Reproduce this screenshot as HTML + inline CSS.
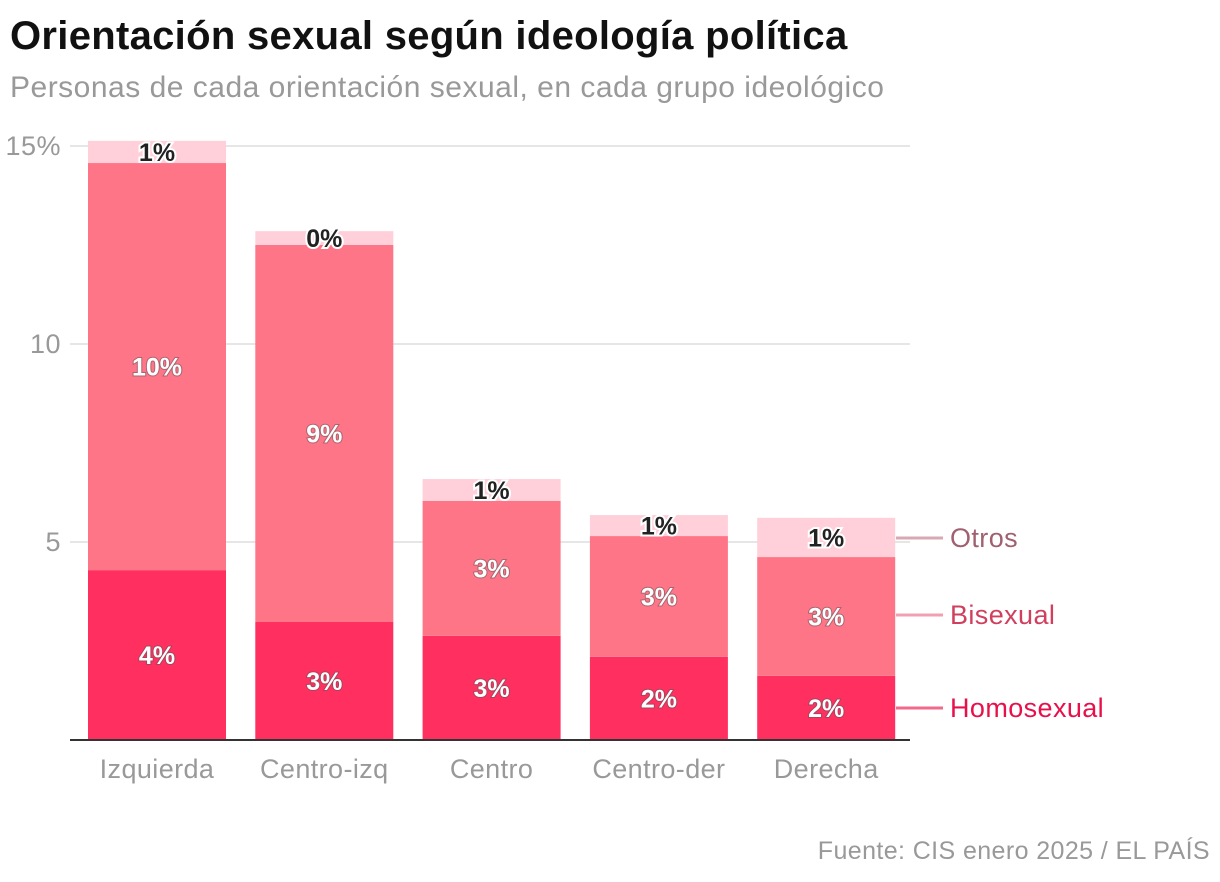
<!DOCTYPE html>
<html><head><meta charset="utf-8"><style>
body{margin:0;background:#fff;width:1220px;height:882px;overflow:hidden;font-family:"Liberation Sans",sans-serif}
#title{position:absolute;left:10px;top:14px;font-size:40px;font-weight:bold;color:#111;letter-spacing:0.3px}
#sub{position:absolute;left:10px;top:71px;font-size:30px;color:#999;letter-spacing:0.5px}
#src{position:absolute;right:10px;top:837px;font-size:25px;color:#999;letter-spacing:0.4px}
svg{position:absolute;left:0;top:0}
.lbl{font-weight:bold;font-size:25px;text-anchor:middle}
</style></head><body>
<div id="title">Orientación sexual según ideología política</div>
<div id="sub">Personas de cada orientación sexual, en cada grupo ideológico</div>
<div id="src">Fuente: CIS enero 2025 / EL PAÍS</div>
<svg id="chart" width="1220" height="882"></svg>
<script>
const categories=["Izquierda","Centro-izq","Centro","Centro-der","Derecha"];
const homosexual=[4.29,2.98,2.63,2.10,1.62];
const bisexual=[10.28,9.52,3.41,3.05,3.00];
const otros=[0.56,0.35,0.55,0.53,0.99];
const homLabels=["4%","3%","3%","2%","2%"];
const biLabels=["10%","9%","3%","3%","3%"];
const otrosLabels=["1%","0%","1%","1%","1%"];
const yTicks=[0,5,10,15];
const yTickLabels=["","5","10","15%"];
const svg=document.getElementById('chart');
const NS="http://www.w3.org/2000/svg";
const y0=740,pxPer=39.6;
const y=v=>y0-v*pxPer;
const x=i=>88+i*167.3;
const bw=138;
function mk(t,a){const e=document.createElementNS(NS,t);for(const k in a)e.setAttribute(k,a[k]);svg.appendChild(e);return e;}
yTicks.forEach((t,i)=>{
 if(t>0){const g=mk('line',{x1:70,x2:910,y1:y(t),y2:y(t),stroke:'#ddd','stroke-width':1.5});
 
 }
 const tx=mk('text',{x:61,y:y(t)+9,'text-anchor':'end','font-size':27,fill:'#999','letter-spacing':0.5});
 tx.textContent=yTickLabels[i];
 
 
});
const series=[[homosexual,'#ff3060',homLabels,'#fff'],[bisexual,'#ff7588',biLabels,'#fff'],[otros,'#ffd0da',otrosLabels,'#222']];
categories.forEach((c,i)=>{
 let base=0;
 series.forEach((s,si)=>{
  const v=s[0][i];
  const r=mk('rect',{x:x(i),y:y(base+v),width:bw,height:v*pxPer,fill:s[1]});
  
  
  const cy=y(base+v/2)+9;
  const t=mk('text',{x:x(i)+bw/2,y:cy,class:'lbl',fill:s[3],stroke:si==2?'#fff':'#555','stroke-width':si==2?4:2,'paint-order':'stroke','stroke-opacity':si==2?1:0.5});
  t.textContent=s[2][i];
  
  
  base+=v;
 });
 const cl=mk('text',{x:x(i)+bw/2,y:778,'text-anchor':'middle','font-size':27,fill:'#999','letter-spacing':0.4});
 cl.textContent=c;
 
 
});
const ax=mk('line',{x1:70,x2:910,y1:y0,y2:y0,stroke:'#333','stroke-width':2});


const legend=[["Otros",538,'#d8a8b4','#a0606f'],["Bisexual",615,'#f0a0b0','#d0405e'],["Homosexual",708,'#f06a8c','#e8104a']];
legend.forEach(l=>{
 const ln=mk('line',{x1:896,x2:943,y1:l[1],y2:l[1],stroke:l[2],'stroke-width':3});
 
 
 const t=mk('text',{x:950,y:l[1]+9,'font-size':27,fill:l[3],'letter-spacing':0.4});
 t.textContent=l[0];
 
 
});
</script>
</body></html>
